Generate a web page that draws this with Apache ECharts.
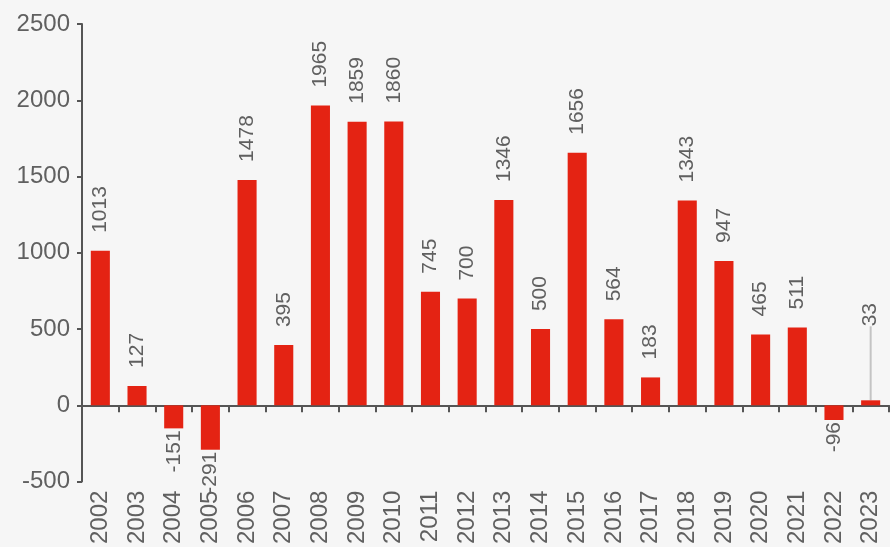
<!DOCTYPE html>
<html>
<head>
<meta charset="utf-8">
<script src="https://cdn.jsdelivr.net/npm/echarts@6/dist/echarts.min.js"></script>
<style>
  html, body { margin: 0; padding: 0; background: #f6f6f6; }
  #main { width: 890px; height: 547px; }
</style>
</head>
<body>
<div id="main"></div>
<script>
// data
var years = ['2002','2003','2004','2005','2006','2007','2008','2009','2010','2011','2012',
             '2013','2014','2015','2016','2017','2018','2019','2020','2021','2022','2023'];
var values = [1013, 127, -151, -291, 1478, 395, 1965, 1859, 1860, 745, 700,
              1346, 500, 1656, 564, 183, 1343, 947, 465, 511, -96, 33];
var yMin = -500, yMax = 2500, yStep = 500;

var textColor = '#606060';
var axisColor = '#555';
var fontFamily = '"Liberation Sans", Arial, sans-serif';

var chart = echarts.init(document.getElementById('main'));

var lastIdx = years.length - 1;
var barData = values.map(function (v, i) {
    var item = { value: v };
    if (v < 0) {
        // negatives: label hangs under the bar
        item.label = { position: 'bottom', align: 'right', distance: 2 };
    }
    if (i === lastIdx) {
        item.labelLine = { show: true };
    }
    return item;
});

var option = {
    backgroundColor: '#f6f6f6',
    animation: false,
    grid: { left: 82, right: 1, top: 24, bottom: 62 },
    xAxis: [
        {
            type: 'category',
            data: years,
            axisLine: { onZero: true, lineStyle: { color: axisColor, width: 2 } },
            axisTick: { show: true, length: 7, lineStyle: { color: axisColor, width: 2 } },
            axisLabel: { show: false }
        },
        {
            type: 'category',
            data: years,
            position: 'bottom',
            axisLine: { show: false, onZero: false },
            axisTick: { show: false },
            axisLabel: {
                rotate: 90,
                margin: 9,
                color: textColor,
                fontSize: 24,
                fontFamily: fontFamily
            }
        }
    ],
    yAxis: {
        type: 'value',
        min: yMin,
        max: yMax,
        interval: yStep,
        axisLine: { show: true, lineStyle: { color: axisColor, width: 2 } },
        axisTick: { show: true, length: 5, lineStyle: { color: axisColor, width: 2 } },
        axisLabel: {
            margin: 12, color: textColor, fontSize: 24, fontFamily: fontFamily,
            formatter: function (v) { return String(v); }
        },
        splitLine: { show: false }
    },
    series: [
        {
            type: 'bar',
            xAxisIndex: 0,
            data: barData,
            barWidth: '52%',
            itemStyle: { color: '#e42313' },
            label: {
                show: true,
                position: 'top',
                rotate: 90,
                align: 'left',
                verticalAlign: 'middle',
                distance: 18,
                color: textColor,
                fontSize: 21,
                fontFamily: fontFamily
            },
            labelLine: { show: false, lineStyle: { color: '#c4c4c4', width: 2 } },
            labelLayout: function (params) {
                // the 2023 label is lifted up with a leader line
                // (label is rotated 90deg, so local x points up)
                if (params.dataIndex === lastIdx) {
                    return { dx: 56 };
                }
            }
        }
    ]
};

chart.setOption(option);
</script>
</body>
</html>
